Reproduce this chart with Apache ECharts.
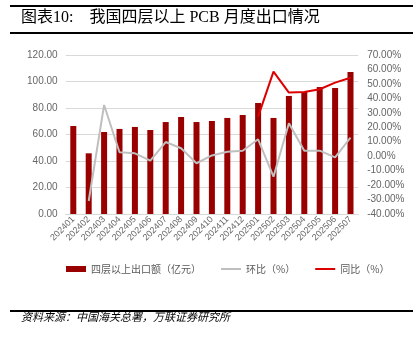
<!DOCTYPE html>
<html><head><meta charset="utf-8">
<script src="https://cdn.jsdelivr.net/npm/echarts@6/dist/echarts.min.js"></script>
<style>html,body{margin:0;padding:0;background:#fff}#c{width:416px;height:341px}</style>
</head><body><div id="c"></div>
<script>
const categories = ['202401','202402','202403','202404','202405','202406','202407','202408','202409','202410','202411','202412','202501','202502','202503','202504','202505','202506','202507'];
const exportValues = [66.4,45.8,61.9,64.2,65.7,63.4,69.4,73.2,69.4,70.2,72.5,74.7,83.8,72.5,89.1,92.1,95.8,95.1,107.2];
const momValues = [null,-31.0,35.4,2.7,2.0,-3.1,9.8,5.5,-4.9,0.5,3.1,3.8,11.7,-14.2,22.8,3.8,3.8,-0.8,12.8];
const yoyValues = [null,null,null,null,null,null,null,null,null,null,null,null,27.4,58.5,44.0,44.4,46.3,50.9,54.3];
const leftTicks = {min:0,max:120,interval:20};
const rightTicks = {min:-40,max:70,interval:10};

const chart = echarts.init(document.getElementById('c'), null, {renderer:'canvas'});
const labelFont = "'Liberation Sans', Arial, sans-serif";
const cjk = "'Noto Sans CJK SC', sans-serif";
chart.setOption({
  animation:false,
  backgroundColor:'#fff',
  grid:{left:65.6,right:57.8,top:55,bottom:127},
  graphic:[
    {type:'rect',shape:{x:10,y:5,width:403,height:2},style:{fill:'#000'}},
    {type:'rect',shape:{x:10,y:32,width:403,height:2},style:{fill:'#000'}},
    {type:'text',left:21,top:10,style:{text:'图表10:\u3000我国四层以上 PCB 月度出口情况',font:"16px 'Liberation Serif', 'Noto Sans CJK SC', serif",fill:'#000'}},
    {type:'rect',shape:{x:10,y:310,width:403,height:2},style:{fill:'#000'}},
    {type:'text',left:21,top:311,style:{text:'资料来源：中国海关总署，万联证券研究所',font:"italic 11px 'Noto Sans CJK SC', sans-serif",fill:'#000'}}
  ],
  legend:{
    left:61,top:259,itemWidth:20,itemHeight:6,itemGap:20,
    textStyle:{fontSize:10,color:'#595959',fontFamily:cjk},
    data:[
      {name:'四层以上出口额（亿元）',icon:'rect'},
      {name:'环比（%）',icon:'path://M0,0H20V2H0Z'},
      {name:'同比（%）',icon:'path://M0,0H20V2H0Z'}
    ]
  },
  xAxis:{
    type:'category',data:categories,
    axisTick:{show:false},
    axisLine:{lineStyle:{color:'#d9d9d9'}},
    axisLabel:{rotate:45,interval:0,fontSize:9,color:'#666',margin:4,fontFamily:labelFont}
  },
  yAxis:[
    {type:'value',min:leftTicks.min,max:leftTicks.max,interval:leftTicks.interval,
     axisLine:{show:false},axisTick:{show:false},
     splitLine:{lineStyle:{color:'#d9d9d9'}},
     axisLabel:{fontSize:10,color:'#666',margin:8,fontFamily:labelFont,formatter:v=>v.toFixed(2)}},
    {type:'value',min:rightTicks.min,max:rightTicks.max,interval:rightTicks.interval,
     axisLine:{show:false},axisTick:{show:false},splitLine:{show:false},
     axisLabel:{fontSize:10,color:'#666',margin:9,fontFamily:labelFont,formatter:v=>v.toFixed(2)+'%'}}
  ],
  series:[
    {name:'四层以上出口额（亿元）',type:'bar',data:exportValues,barWidth:6,itemStyle:{color:'#990000'}},
    {name:'环比（%）',type:'line',yAxisIndex:1,data:momValues,symbol:'none',lineStyle:{color:'#bfbfbf',width:2},itemStyle:{color:'#bfbfbf'}},
    {name:'同比（%）',type:'line',yAxisIndex:1,data:yoyValues,symbol:'none',lineStyle:{color:'#dd0000',width:2},itemStyle:{color:'#dd0000'}}
  ]
});
</script></body></html>
